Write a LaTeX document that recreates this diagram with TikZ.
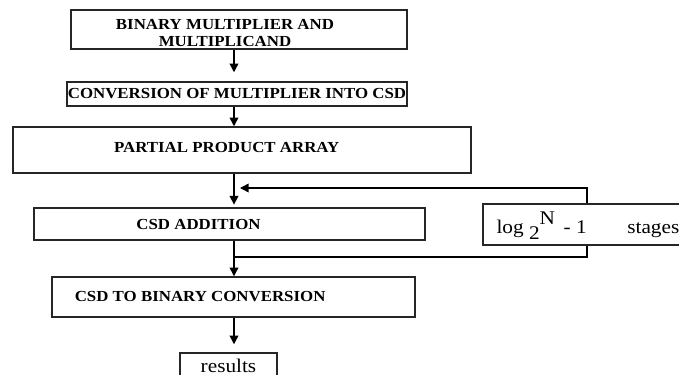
\documentclass[tikz,border=0pt]{standalone}
\usepackage{fontspec}
\setmainfont{Liberation Serif}[FakeStretch=1.1]
\usetikzlibrary{arrows.meta, positioning}

\begin{document}
\begin{tikzpicture}[x=0.75pt, y=-0.75pt,
        box/.style 2 args = {
            rectangle,
            draw=black!85,
            line width=1.1pt,
            fill=white,
            inner sep=0pt,
            minimum width=#1,
            minimum height=#2
        },
        boxtext/.style = {
            font=\bfseries\fontsize{11.5}{12.75}\selectfont,
            align=center,
            inner sep=0pt
        },
        plaintext/.style = {
            font=\fontsize{14.5}{16}\selectfont,
            inner sep=0pt
        },
        flow/.style = {-{Triangle[width=6.5pt, length=6.5pt]}, line width=1.1pt},
        link/.style = {-, line width=1.1pt}
        ]

        \useasboundingbox (0,0) rectangle (679,375);

        \coordinate (spine) at (234,0);
        \coordinate (loop) at (587,0);
        \coordinate (fb_in) at (240,188);
        \coordinate (merge) at (234,257);

        \node (mult_in) [box={252pt}{29.25pt}, label={[boxtext, xshift=-10.5pt, yshift=-3pt]center:{BINARY MULTIPLIER AND\\MULTIPLICAND}}] at (239,29.5) {};
        \node (csd_conv) [box={255pt}{18pt}, label={[boxtext]center:{CONVERSION OF MULTIPLIER INTO CSD}}] at (237,94) {};
        \node (pp_array) [box={343.5pt}{34.5pt}, label={[boxtext, xshift=-11.5pt, yshift=2.25pt]center:{PARTIAL PRODUCT ARRAY}}] at (242,150) {};
        \node (csd_add) [box={293.25pt}{24pt}, label={[boxtext, xshift=-23.25pt]center:{CSD ADDITION}}] at (229.5,224) {};
        \node (stages) [box={177.75pt}{30.75pt}, label={[plaintext, anchor=west, xshift=10.5pt, yshift=-1pt]west:{log \raisebox{-4.5pt}{2}\raisebox{7pt}{N}\hspace{0.45em}- 1\hspace{2.1em}stages}}] at (601.5,224.5) {};
        \node (csd_bin) [box={272.25pt}{30pt}, label={[boxtext, xshift=-25pt]center:{CSD TO BINARY CONVERSION}}] at (233.5,297) {};
        \node (result) [box={72.75pt}{24pt}, label={[plaintext, yshift=2.5pt]center:{results}}] at (228.5,369) {};

        \draw[flow, shorten >=6.75pt] (mult_in.south -| spine) -- (csd_conv.north -| spine);
        \draw[flow] (csd_conv.south -| spine) -- (pp_array.north -| spine);
        \draw[flow, shorten >=2pt] (pp_array.south -| spine) -- (csd_add.north -| spine);
        \draw[flow] (stages.north -| loop) |- (fb_in);
        \draw[link] (csd_add.south -| spine) -- (merge);
        \draw[link] (stages.south -| loop) |- (merge);
        \draw[flow] (merge) -- (csd_bin.north -| spine);
        \draw[flow, shorten >=6pt] (csd_bin.south -| spine) -- (result.north -| spine);

    \end{tikzpicture}
\end{document}
